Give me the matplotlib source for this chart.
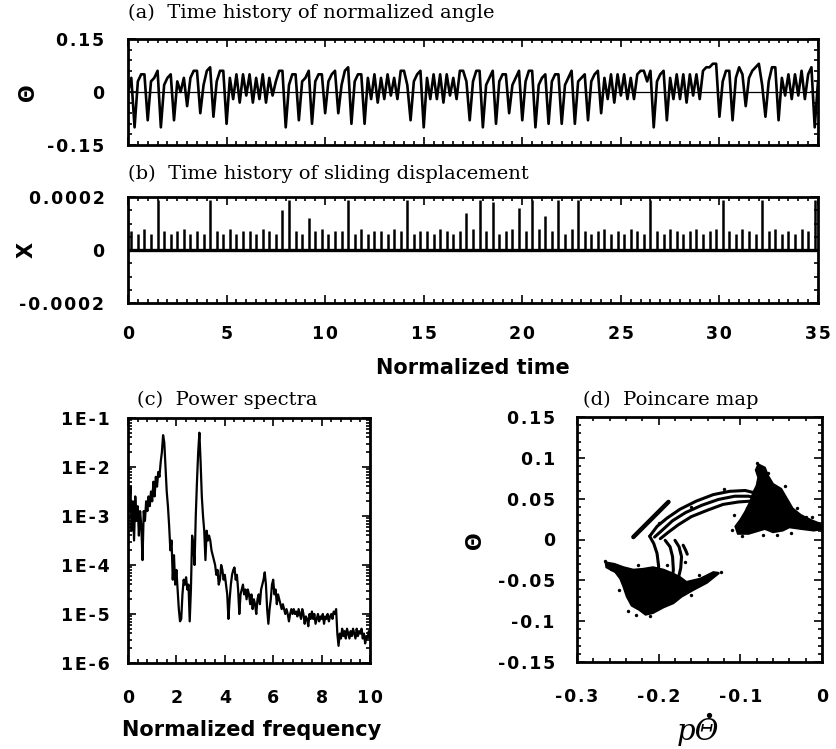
import matplotlib
matplotlib.use("Agg")
import matplotlib.pyplot as plt
import numpy as np
from matplotlib.lines import Line2D
from matplotlib.ticker import MultipleLocator, FixedLocator, FuncFormatter, LogLocator, NullFormatter

plt.rcParams['axes.unicode_minus'] = False
plt.rcParams['font.family'] = 'DejaVu Sans'
plt.rcParams['font.weight'] = 'bold'

W, H = 837, 749

# (a) normalized angle, turning points every 1/6 time unit
theta_dt = 1 / 6
theta = [
    0.00, 0.04, -0.10, 0.03, 0.05, 0.05, -0.08, 0.03, 0.04, 0.06, -0.10, 0.02,
    0.04, 0.05, -0.08, 0.03, 0.00, 0.04, -0.04, 0.04, 0.06, 0.06, -0.06, 0.02,
    0.06, 0.07, -0.07, 0.03, 0.06, 0.06, -0.09, 0.04, -0.02, 0.05, -0.03, 0.05,
    -0.01, 0.05, -0.03, 0.04, -0.02, 0.05, -0.03, 0.04, -0.01, 0.03, 0.06, 0.06,
    -0.10, 0.02, 0.05, 0.05, -0.08, 0.03, 0.04, 0.06, -0.09, 0.03, 0.05, 0.05,
    -0.06, 0.03, 0.05, 0.06, -0.06, 0.02, 0.06, 0.07, -0.09, 0.03, 0.05, 0.05,
    -0.09, 0.04, -0.02, 0.05, -0.03, 0.04, -0.02, 0.05, -0.01, 0.04, -0.02, 0.06,
    0.06, 0.02, -0.08, 0.03, 0.05, 0.06, -0.10, 0.04, -0.02, 0.05, -0.02, 0.05,
    -0.03, 0.05, -0.01, 0.04, -0.02, 0.06, 0.06, 0.03, -0.08, 0.03, 0.06, 0.06,
    -0.10, 0.02, 0.04, 0.06, -0.09, 0.03, 0.05, 0.05, -0.06, 0.02, 0.04, 0.06,
    -0.08, 0.03, 0.06, 0.06, -0.10, 0.02, 0.04, 0.05, -0.09, 0.03, 0.05, 0.05,
    -0.09, 0.02, 0.04, 0.06, -0.09, 0.03, 0.04, 0.05, -0.08, 0.03, 0.05, 0.06,
    -0.06, 0.04, -0.02, 0.05, -0.03, 0.05, -0.01, 0.05, -0.02, 0.04, -0.02, 0.05,
    0.06, 0.06, 0.03, 0.06, -0.10, 0.03, 0.05, 0.06, -0.08, 0.04, -0.02, 0.05,
    -0.02, 0.05, -0.03, 0.05, -0.01, 0.05, -0.02, 0.06, 0.07, 0.07, 0.08, 0.08,
    -0.07, 0.03, 0.06, 0.06, -0.08, 0.04, 0.07, 0.05, -0.04, 0.04, 0.06, 0.07,
    0.08, 0.02, -0.07, 0.03, 0.07, 0.07, -0.08, 0.04, -0.01, 0.05, -0.02, 0.05,
    -0.01, 0.06, -0.02, 0.05, 0.07, -0.10, 0.03,
]

# (b) sliding displacement spikes (units of 1e-5), one every 1/3 time unit
slip_dt = 1 / 3
slip_spikes = [
    7, 6, 8, 6, 19, 7, 6, 7, 8, 6, 7, 6, 19, 7, 6,
    8, 6, 7, 7, 6, 8, 7, 6, 15, 19, 7, 6, 12, 7, 8,
    6, 7, 7, 19, 6, 8, 6, 7, 7, 6, 8, 7, 19, 6, 7,
    7, 6, 8, 7, 6, 7, 14, 8, 19, 7, 18, 6, 7, 8, 16,
    7, 19, 8, 13, 7, 19, 6, 8, 19, 7, 6, 7, 8, 6, 7,
    6, 8, 7, 6, 19, 7, 6, 8, 7, 6, 7, 8, 6, 7, 8,
    19, 7, 6, 8, 7, 6, 19, 7, 8, 6, 7, 6, 8, 7, 19,
]

# (c) power spectrum, log10 of power, every 0.05 in frequency
spec_df = 0.05
spec_log = [
    -2.5, -2.9, -2.4, -3.3, -2.7, -3.5, -2.6, -3.1, -2.8, -3.4,
    -2.9, -3.2, -3.9, -2.9, -3.1, -2.7, -2.9, -2.6, -2.8, -2.5,
    -2.7, -2.3, -2.6, -2.2, -2.4, -2.1, -2.2, -1.9, -1.7, -1.35,
    -1.5, -2.0, -2.5, -2.8, -3.2, -3.7, -3.5, -4.3, -3.8, -4.4,
    -4.1, -4.5, -4.9, -5.15, -5.1, -4.6, -4.3, -4.4, -4.25, -4.5,
    -4.4, -5.15, -4.5, -3.4, -3.6, -4.0, -3.0, -2.3, -1.7, -1.3,
    -1.9, -2.6, -3.0, -3.3, -3.9, -3.3, -3.5, -3.4, -3.5, -3.7,
    -3.8, -3.9, -4.0, -4.2, -4.1, -4.4, -4.3, -4.0, -4.1, -4.3,
    -4.2, -4.4, -4.6, -5.1, -4.7, -4.4, -4.2, -4.1, -4.05, -4.3,
    -4.2, -4.5, -5.0, -4.6, -4.5, -4.4, -4.6, -4.5, -4.7, -4.5,
    -4.6, -4.8, -4.6, -4.9, -4.7, -4.8, -5.0, -4.7, -4.6, -4.8,
    -4.5, -4.4, -4.3, -4.15, -4.4, -4.9, -5.2, -4.9, -4.7, -4.4,
    -4.3, -4.6, -4.5, -4.8, -4.6, -4.7, -4.8, -4.9, -4.8, -4.9,
    -5.0, -4.9, -5.0, -5.15, -5.0, -4.9, -5.0, -4.9, -5.0, -4.95,
    -5.05, -4.9, -5.0, -5.1, -4.9, -5.0, -5.2, -5.05, -5.1, -5.25,
    -5.0, -5.1, -4.95, -5.1, -5.0, -5.2, -5.1, -5.0, -5.15, -5.05,
    -5.1, -5.0, -5.2, -5.05, -5.1, -5.0, -5.15, -5.05, -5.0, -5.1,
    -4.95, -5.0, -4.9, -5.4, -5.65, -5.4, -5.5, -5.3, -5.45, -5.35,
    -5.5, -5.3, -5.4, -5.5, -5.35, -5.45, -5.3, -5.4, -5.5, -5.3,
    -5.45, -5.35, -5.4, -5.3, -5.5, -5.4, -5.6, -5.45, -5.5, -5.35,
    -5.5,
]

# (d) Poincare map: dense clouds (outlines), thin bands and stray points
upper_cloud = [
    (-0.078, 0.092), (-0.070, 0.088), (-0.066, 0.078), (-0.060, 0.068),
    (-0.050, 0.062), (-0.043, 0.050), (-0.036, 0.038), (-0.026, 0.030),
    (-0.014, 0.024), (-0.004, 0.020), (0.002, 0.013), (-0.010, 0.011),
    (-0.026, 0.013), (-0.040, 0.015), (-0.048, 0.011), (-0.060, 0.009),
    (-0.070, 0.013), (-0.080, 0.010), (-0.090, 0.007), (-0.103, 0.007),
    (-0.106, 0.016), (-0.100, 0.024), (-0.094, 0.034), (-0.088, 0.046),
    (-0.084, 0.058), (-0.080, 0.066), (-0.078, 0.076), (-0.081, 0.085),
]
lower_cloud = [
    (-0.265, -0.028), (-0.254, -0.030), (-0.243, -0.034), (-0.231, -0.037),
    (-0.219, -0.036), (-0.207, -0.034), (-0.194, -0.037), (-0.182, -0.042),
    (-0.174, -0.046), (-0.166, -0.052), (-0.149, -0.048), (-0.133, -0.040),
    (-0.126, -0.041), (-0.141, -0.053), (-0.158, -0.062), (-0.172, -0.070),
    (-0.182, -0.078), (-0.194, -0.083), (-0.207, -0.090), (-0.216, -0.092),
    (-0.224, -0.086), (-0.233, -0.081), (-0.239, -0.070), (-0.243, -0.058),
    (-0.247, -0.048), (-0.253, -0.040), (-0.264, -0.034),
]
bands = [
    [(-0.211, 0.004), (-0.202, 0.016), (-0.190, 0.026), (-0.174, 0.037), (-0.154, 0.047),
     (-0.133, 0.055), (-0.113, 0.059), (-0.094, 0.060), (-0.082, 0.057)],
    [(-0.205, 0.003), (-0.195, 0.012), (-0.183, 0.023), (-0.167, 0.033), (-0.147, 0.042),
     (-0.127, 0.049), (-0.107, 0.053), (-0.090, 0.053), (-0.081, 0.051)],
    [(-0.198, 0.001), (-0.188, 0.009), (-0.176, 0.018), (-0.160, 0.028), (-0.140, 0.036),
     (-0.121, 0.043), (-0.102, 0.046), (-0.087, 0.047), (-0.080, 0.045)],
    [(-0.211, 0.004), (-0.206, -0.005), (-0.202, -0.017), (-0.200, -0.033), (-0.202, -0.050),
     (-0.205, -0.062)],
    [(-0.192, -0.001), (-0.186, -0.009), (-0.183, -0.021), (-0.182, -0.037), (-0.184, -0.054),
     (-0.186, -0.066)],
    [(-0.180, -0.001), (-0.175, -0.009), (-0.172, -0.021), (-0.173, -0.035), (-0.176, -0.048)],
    [(-0.170, -0.007), (-0.167, -0.013), (-0.165, -0.018)],
]
short_band = [(-0.231, 0.003), (-0.210, 0.024), (-0.188, 0.046)]
stray_pts = [
    (-0.092, 0.038), (-0.110, 0.012), (-0.079, 0.094), (-0.066, 0.082), (-0.030, 0.038),
    (0.003, 0.014), (-0.020, 0.027), (-0.055, 0.005), (-0.108, 0.030), (-0.045, 0.066),
    (-0.266, -0.026), (-0.225, -0.031), (-0.210, -0.094), (-0.124, -0.040), (-0.150, -0.044),
    (-0.248, -0.062), (-0.190, -0.031), (-0.168, -0.028), (-0.237, -0.087), (-0.160, -0.068),
    (-0.160, 0.040), (-0.120, 0.062), (-0.200, 0.020), (-0.258, -0.036), (-0.228, -0.092),
    (-0.012, 0.028), (-0.098, 0.004), (-0.072, 0.006), (-0.038, 0.008),
]


def px(x, y):
    return x / W, 1 - y / H


def box(l, t, r, b):
    return [l / W, 1 - b / H, (r - l) / W, (b - t) / H]


def spaced(s):
    return '\u200a'.join(s)


def plain(v, pos):
    s = f"{v:.6f}".rstrip('0').rstrip('.')
    return spaced('0' if s in ('-0', '') else s)


def style(ax, xpad, ypad):
    for s in ax.spines.values():
        s.set_linewidth(2.0)
    ax.tick_params(which='both', direction='in', top=True, right=True,
                   labelsize=12.5, width=1.2)
    ax.tick_params(which='major', length=6)
    ax.tick_params(which='minor', length=3)
    ax.tick_params(axis='x', pad=xpad)
    ax.tick_params(axis='y', pad=ypad)


fig = plt.figure(figsize=(W / 100, H / 100), dpi=100)
serif = dict(family='DejaVu Serif', weight='normal', size=14, va='center', ha='left')
lab = dict(weight='bold', size=15, va='center', ha='center')

# (a)
ax_a = fig.add_axes(box(128, 39, 818, 145))
t_a = np.arange(len(theta)) * theta_dt
ax_a.plot(t_a, theta, color='k', lw=1.9)
ax_a.axhline(0, color='k', lw=0.9)
ax_a.set_xlim(0, 35)
ax_a.set_ylim(-0.15, 0.15)
ax_a.xaxis.set_major_locator(MultipleLocator(5))
ax_a.xaxis.set_minor_locator(MultipleLocator(0.5))
ax_a.yaxis.set_major_locator(FixedLocator([-0.15, 0, 0.15]))
ax_a.yaxis.set_minor_locator(MultipleLocator(0.03))
ax_a.yaxis.set_major_formatter(FuncFormatter(plain))
style(ax_a, 16, 17)
ax_a.tick_params(labelbottom=False)
fig.text(*px(128, 13), "(a)  Time history of normalized angle", **serif)
fig.text(*px(28, 92), "Θ", rotation=90, **lab)

# (b)
ax_b = fig.add_axes(box(128, 197, 818, 303))
t_b = np.arange(len(slip_spikes)) * slip_dt + slip_dt / 2
ax_b.vlines(t_b, 0, np.array(slip_spikes) * 1e-5, color='k', lw=1.8)
ax_b.axhline(0, color='k', lw=2.4)
ax_b.set_xlim(0, 35)
ax_b.set_ylim(-0.0002, 0.0002)
ax_b.xaxis.set_major_locator(MultipleLocator(5))
ax_b.xaxis.set_minor_locator(MultipleLocator(0.5))
ax_b.yaxis.set_major_locator(FixedLocator([-0.0002, 0, 0.0002]))
ax_b.yaxis.set_minor_locator(MultipleLocator(0.00005))
ax_b.yaxis.set_major_formatter(FuncFormatter(plain))
ax_b.xaxis.set_major_formatter(FuncFormatter(plain))
style(ax_b, 16, 17)
fig.text(*px(128, 174), "(b)  Time history of sliding displacement", **serif)
fig.text(*px(27, 250), "X", rotation=90, **lab)
fig.text(*px(473, 368), "Normalized time", **lab)

# (c)
ax_c = fig.add_axes(box(128, 418, 370, 663))
freq = np.arange(len(spec_log)) * spec_df
ax_c.semilogy(freq, 10.0 ** np.array(spec_log), color='k', lw=1.6)
ax_c.set_xlim(0, 10)
ax_c.set_ylim(1e-6, 1e-1)
ax_c.xaxis.set_major_locator(MultipleLocator(2))
ax_c.xaxis.set_minor_locator(MultipleLocator(0.4))
ax_c.yaxis.set_major_locator(LogLocator(base=10, numticks=10))
ax_c.yaxis.set_minor_locator(LogLocator(base=10, subs=np.arange(2, 10), numticks=20))
ax_c.yaxis.set_minor_formatter(NullFormatter())
ax_c.yaxis.set_major_formatter(
    FuncFormatter(lambda v, p: spaced(f"1E{int(round(np.log10(v)))}")))
ax_c.xaxis.set_major_formatter(FuncFormatter(plain))
style(ax_c, 19, 13)
fig.text(*px(137, 400), "(c)  Power spectra", **serif)
fig.text(*px(252, 730), "Normalized frequency", **lab)

# (d)
ax_d = fig.add_axes(box(577, 417, 822, 662))
for cloud in (upper_cloud, lower_cloud):
    cx, cy = zip(*cloud)
    ax_d.fill(cx, cy, color='k', lw=1.5, ec='k')
for band in bands:
    bx, by = zip(*band)
    ax_d.plot(bx, by, color='k', lw=2.2, solid_capstyle='round')
sx, sy = zip(*short_band)
ax_d.plot(sx, sy, color='k', lw=3.2, solid_capstyle='round')
stx, sty = zip(*stray_pts)
ax_d.scatter(stx, sty, s=6, color='k', lw=0)
ax_d.set_xlim(-0.3, 0)
ax_d.set_ylim(-0.15, 0.15)
ax_d.xaxis.set_major_locator(MultipleLocator(0.1))
ax_d.xaxis.set_minor_locator(MultipleLocator(0.02))
ax_d.yaxis.set_major_locator(MultipleLocator(0.05))
ax_d.yaxis.set_minor_locator(MultipleLocator(0.01))
ax_d.xaxis.set_major_formatter(FuncFormatter(plain))
ax_d.yaxis.set_major_formatter(FuncFormatter(plain))
style(ax_d, 19, 16)
fig.text(*px(583, 400), "(d)  Poincare map", **serif)
fig.text(*px(475, 540), "Θ", rotation=90, **lab)
fig.text(*px(698, 732), "pΘ", family='DejaVu Serif', style='italic', weight='normal',
         size=21, ha='center', va='center')
# dot over the theta
fig.add_artist(Line2D([709 / W], [1 - 715 / H], marker='o', ms=2.8, color='k',
                      transform=fig.transFigure))

fig.savefig("out.png", dpi=100)
